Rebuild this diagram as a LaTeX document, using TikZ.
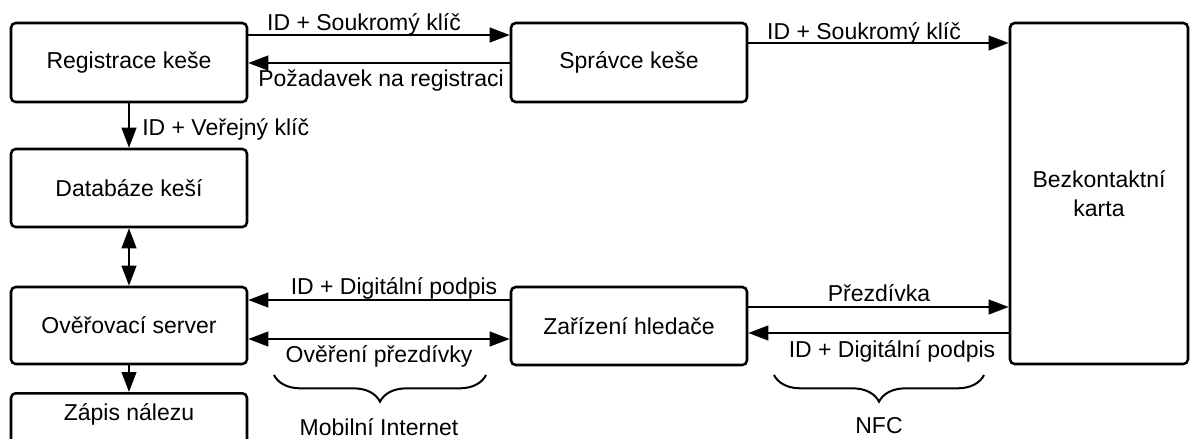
\documentclass[tikz,border=0pt]{standalone}
\usepackage{fontspec}
\setmainfont{Liberation Sans}
\usetikzlibrary{arrows.meta,decorations.pathreplacing}
\begin{document}
\begin{tikzpicture}[x=0.75pt,y=-0.75pt,
  every node/.style={font=\fontsize{17.25pt}{21.75pt}\selectfont, text=black},
  box/.style={draw, line width=1.9pt, rounded corners=3.5pt, minimum width=177pt, inner sep=0pt, align=center},
  tip/.style={},
  arr/.style={line width=1.5pt, -{Triangle[length=15pt,width=11pt]}},
  darr/.style={line width=1.5pt, {Triangle[length=15pt,width=11pt]}-{Triangle[length=15pt,width=11pt]}},
  lbl/.style={inner sep=0pt, anchor=base},
  brc/.style={decorate, decoration={brace, amplitude=20pt, mirror}, line width=1.5pt}
]
\clip (0,0) rectangle (1190,439);
% boxes
\node[box, minimum height=59.25pt] (reg) at (129,62.5) {Registrace keše};
\node[box, minimum height=59.25pt] (spr) at (629,62.5) {Správce keše};
\node[box, minimum width=133.5pt, minimum height=255.75pt] (bez) at (1099,193.5) {Bezkontaktní\\karta};
\node[box, minimum height=58.5pt] (dat) at (129,188) {Databáze keší};
\node[box, minimum height=57.75pt] (ove) at (129,325.5) {Ověřovací server};
\node[box, minimum height=58.5pt] (zar) at (629,326) {Zařízení hledače};
\node[box, minimum height=45pt, anchor=north] (zap) at (129,392) {};
\node (zapt) at (129,414) {Zápis nálezu};
% helper levels
\coordinate (h35) at (0,35);
\coordinate (h63) at (0,63);
\coordinate (h43) at (0,43);
\coordinate (h299) at (0,300);
\coordinate (h338) at (0,339);
\coordinate (h307) at (0,307);
\coordinate (h333) at (0,333);
% connectors
\draw[arr] (reg.east |- h35) -- (spr.west |- h35);
\draw[arr] (spr.west |- h63) -- (reg.east |- h63);
\draw[arr] (spr.east |- h43) -- (bez.west |- h43);
\draw[arr] (reg.south) -- (dat.north);
\draw[darr] (dat.south) -- (ove.north);
\draw[arr] (ove.south) -- (zap.north);
\draw[arr] (zar.west |- h299) -- (ove.east |- h299);
\draw[darr] (ove.east |- h338) -- (zar.west |- h338);
\draw[arr] (zar.east |- h307) -- (bez.west |- h307);
\draw[arr] (bez.west |- h333) -- (zar.east |- h333);
% labels
\node[lbl] (l1) at (364,31) {ID + Soukromý klíč};
\node[lbl] (l2) at (381,86) {Požadavek na registraci};
\node[lbl] (l3) at (864,39) {ID + Soukromý klíč};
\node[lbl, anchor=base west] (l4) at (142,135) {ID + Veřejný klíč};
\node[lbl] (l5) at (394,294) {ID + Digitální podpis};
\node[lbl] (l6) at (379,362) {Ověření přezdívky};
\node[lbl] (l7) at (879,301) {Přezdívka};
\node[lbl] (l8) at (892,357) {ID + Digitální podpis};
\node[lbl] (l9) at (379,435) {Mobilní Internet};
\node[lbl] (l10) at (879,433) {NFC};
% braces
\coordinate (b1a) at (274,375);
\coordinate (b1b) at (486,375);
\coordinate (b2a) at (774,375);
\coordinate (b2b) at (984,375);
\draw[brc] (b1a) -- (b1b);
\draw[brc] (b2a) -- (b2b);
\end{tikzpicture}
\end{document}
